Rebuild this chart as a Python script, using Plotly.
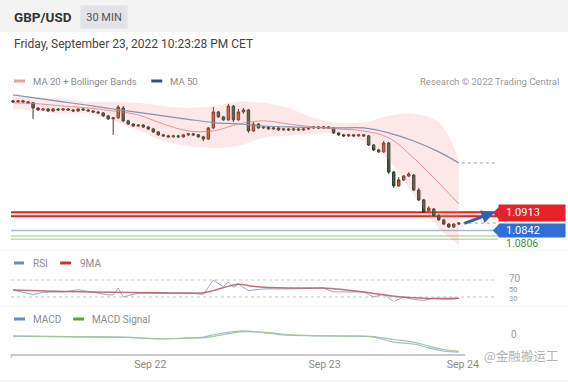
import plotly.graph_objects as go

W, H = 568, 383
FIG_W = 583  # layout width that renders as a full 568 px wide picture in the viewer

# ---------------- data ----------------
candle_idx = list(range(90))
opens = [1.1368, 1.1364, 1.1368, 1.1364, 1.1360, 1.1339, 1.1331, 1.1335, 1.1327, 1.1335,
         1.1331, 1.1335, 1.1331, 1.1327, 1.1335, 1.1331, 1.1327, 1.1323, 1.1319, 1.1307,
         1.1295, 1.1299, 1.1339, 1.1287, 1.1274, 1.1266, 1.1270, 1.1262, 1.1254, 1.1242,
         1.1230, 1.1226, 1.1222, 1.1226, 1.1222, 1.1230, 1.1234, 1.1230, 1.1222, 1.1213,
         1.1258, 1.1323, 1.1303, 1.1291, 1.1347, 1.1291, 1.1323, 1.1331, 1.1246, 1.1274,
         1.1258, 1.1262, 1.1254, 1.1258, 1.1250, 1.1254, 1.1250, 1.1254, 1.1250, 1.1254,
         1.1258, 1.1262, 1.1258, 1.1262, 1.1258, 1.1238, 1.1230, 1.1226, 1.1230, 1.1226,
         1.1230, 1.1226, 1.1189, 1.1169, 1.1161, 1.1197, 1.1079, 1.1023, 1.1047, 1.1063,
         1.1067, 1.1006, 1.0966, 1.0921, 1.0929, 1.0901, 1.0885, 1.0868, 1.0856, 1.0868]
highs = [1.1372, 1.1372, 1.1372, 1.1368, 1.1364, 1.1343, 1.1339, 1.1339, 1.1339, 1.1339,
         1.1339, 1.1339, 1.1335, 1.1339, 1.1339, 1.1335, 1.1331, 1.1327, 1.1323, 1.1311,
         1.1303, 1.1351, 1.1347, 1.1291, 1.1278, 1.1274, 1.1274, 1.1266, 1.1258, 1.1246,
         1.1234, 1.1230, 1.1230, 1.1230, 1.1234, 1.1238, 1.1238, 1.1234, 1.1226, 1.1262,
         1.1343, 1.1327, 1.1307, 1.1356, 1.1351, 1.1335, 1.1339, 1.1335, 1.1282, 1.1278,
         1.1266, 1.1266, 1.1262, 1.1262, 1.1258, 1.1258, 1.1258, 1.1258, 1.1258, 1.1262,
         1.1266, 1.1266, 1.1266, 1.1266, 1.1262, 1.1242, 1.1234, 1.1234, 1.1234, 1.1234,
         1.1234, 1.1230, 1.1193, 1.1173, 1.1205, 1.1201, 1.1084, 1.1059, 1.1067, 1.1079,
         1.1071, 1.1015, 1.0970, 1.0941, 1.0933, 1.0909, 1.0889, 1.0872, 1.0872, 1.0876]
lows = [1.1360, 1.1360, 1.1360, 1.1356, 1.1295, 1.1327, 1.1327, 1.1323, 1.1323, 1.1327,
        1.1327, 1.1327, 1.1323, 1.1323, 1.1327, 1.1323, 1.1319, 1.1315, 1.1303, 1.1291,
        1.1230, 1.1295, 1.1282, 1.1270, 1.1262, 1.1262, 1.1258, 1.1250, 1.1238, 1.1226,
        1.1222, 1.1218, 1.1218, 1.1218, 1.1218, 1.1226, 1.1226, 1.1218, 1.1205, 1.1209,
        1.1254, 1.1299, 1.1287, 1.1287, 1.1282, 1.1287, 1.1315, 1.1238, 1.1242, 1.1254,
        1.1254, 1.1250, 1.1250, 1.1246, 1.1246, 1.1246, 1.1246, 1.1246, 1.1246, 1.1250,
        1.1254, 1.1254, 1.1254, 1.1254, 1.1234, 1.1226, 1.1222, 1.1222, 1.1222, 1.1222,
        1.1222, 1.1185, 1.1165, 1.1157, 1.1157, 1.1071, 1.1015, 1.1019, 1.1043, 1.1059,
        1.1002, 1.0962, 1.0913, 1.0917, 1.0897, 1.0881, 1.0864, 1.0852, 1.0852, 1.0864]
closes = [1.1364, 1.1368, 1.1364, 1.1360, 1.1339, 1.1331, 1.1335, 1.1327, 1.1335, 1.1331,
          1.1335, 1.1331, 1.1327, 1.1335, 1.1331, 1.1327, 1.1323, 1.1319, 1.1307, 1.1295,
          1.1299, 1.1343, 1.1287, 1.1274, 1.1266, 1.1270, 1.1262, 1.1254, 1.1242, 1.1230,
          1.1226, 1.1222, 1.1226, 1.1222, 1.1230, 1.1234, 1.1230, 1.1222, 1.1213, 1.1258,
          1.1323, 1.1303, 1.1291, 1.1347, 1.1291, 1.1323, 1.1331, 1.1246, 1.1274, 1.1258,
          1.1262, 1.1254, 1.1258, 1.1250, 1.1254, 1.1250, 1.1254, 1.1250, 1.1254, 1.1258,
          1.1262, 1.1258, 1.1262, 1.1258, 1.1238, 1.1230, 1.1226, 1.1230, 1.1226, 1.1230,
          1.1226, 1.1189, 1.1169, 1.1161, 1.1197, 1.1079, 1.1023, 1.1047, 1.1063, 1.1071,
          1.1006, 1.0966, 1.0917, 1.0933, 1.0901, 1.0885, 1.0868, 1.0856, 1.0868, 1.0872]

ind_idx = [0, 5, 10, 15, 20, 25, 30, 35, 40, 45, 50, 55, 60, 65, 70, 75, 80, 85, 89]
ma50 = [1.1392, 1.1378, 1.1364, 1.1350, 1.1335, 1.1321, 1.1307, 1.1293, 1.1280, 1.1274,
        1.1266, 1.1262, 1.1260, 1.1258, 1.1258, 1.1238, 1.1205, 1.1161, 1.1116]
ma20 = [1.1360, 1.1356, 1.1347, 1.1339, 1.1327, 1.1311, 1.1274, 1.1246, 1.1246, 1.1274,
        1.1287, 1.1274, 1.1262, 1.1254, 1.1246, 1.1218, 1.1136, 1.1035, 1.0950]
bb_upper = [1.1384, 1.1384, 1.1376, 1.1364, 1.1364, 1.1360, 1.1347, 1.1339, 1.1347, 1.1364,
            1.1360, 1.1339, 1.1299, 1.1278, 1.1282, 1.1307, 1.1315, 1.1282, 1.1128]
bb_lower = [1.1335, 1.1327, 1.1315, 1.1315, 1.1287, 1.1250, 1.1205, 1.1185, 1.1177, 1.1185,
            1.1218, 1.1226, 1.1234, 1.1234, 1.1201, 1.1128, 1.0986, 1.0852, 1.0783]

rsi_idx = [0, 4, 6, 10, 13, 16, 19, 20, 21, 22, 25, 30, 35, 38, 40, 42, 43, 44, 45, 47,
           50, 55, 62, 64, 70, 72, 74, 76, 78, 80, 82, 84, 86, 88, 89]
rsi = [46.5, 36, 41, 42, 47, 41, 35, 35, 51, 30, 39, 38, 40, 36, 70, 54, 65, 53, 60, 45,
       49, 49, 51, 42, 42, 30, 37, 19, 30, 24, 22, 27, 25, 25, 27]
rsi_ma_idx = [0, 10, 20, 30, 38, 40, 45, 48, 55, 62, 70, 76, 82, 89]
rsi_ma = [46.5, 43, 41, 40, 40, 45, 60, 55, 51, 51, 42, 32, 27, 27]

macd_idx = [0, 17, 23, 29, 35, 38, 40, 44, 46, 51, 54, 60, 67, 72, 76, 80, 83, 86, 89]
macd = [-0.0007, -0.0011, -0.0012, -0.0018, -0.0014, -0.0011, -0.0002, 0.0010, 0.0013, 0.0004,
        -0.0003, -0.0006, -0.0007, -0.0011, -0.0030, -0.0037, -0.0052, -0.0064, -0.0068]
macd_signal = [-0.0007, -0.0010, -0.0012, -0.0017, -0.0015, -0.0013, -0.0008, 0.0005, 0.0010, 0.0006,
               0.0000, -0.0005, -0.0007, -0.0009, -0.0020, -0.0030, -0.0045, -0.0058, -0.0064]

date_tick_pos = [27.4, 62.2, 89.8]
date_tick_text = ["Sep 22", "Sep 23", "Sep 24"]

red_zone = [1.0900, 1.0916]
level_red = 1.0913
level_blue = 1.0842
green_lines = [1.0820, 1.0806]
level_green = 1.0806
last_close_level = 1.0872
ma50_last = 1.1116
arrow_target = 1.0917
rsi_levels = [70, 30]
rsi_labels = [70, 50, 30]


# ---------------- helpers ----------------
def X(px):
    return px / W


def Y(py):
    return 1 - py / H


FONT = "Roboto"
shapes = []
annotations = []


def rect_px(x0, y0, x1, y1, color, line=None):
    shapes.append(dict(type="rect", xref="paper", yref="paper", x0=X(x0), x1=X(x1), y0=Y(y0), y1=Y(y1),
                       fillcolor=color, line=dict(width=0) if line is None else line, layer="below"))


def hline_px(x0, x1, py, color, width=1):
    shapes.append(dict(type="line", xref="paper", yref="paper", x0=X(x0), x1=X(x1), y0=Y(py), y1=Y(py),
                       line=dict(color=color, width=width), layer="below"))


def txt(px, py, s, size, color, anchor="left", family=FONT):
    annotations.append(dict(x=X(px), y=Y(py), xref="paper", yref="paper", text=s, showarrow=False,
                            xanchor=anchor, yanchor="middle", font=dict(size=size, color=color, family=family)))


fig = go.Figure()

# Bollinger band + moving averages
fig.add_trace(go.Scatter(x=ind_idx, y=bb_lower, mode="lines", line=dict(width=0, shape="spline"),
                         hoverinfo="skip", showlegend=False))
fig.add_trace(go.Scatter(x=ind_idx, y=bb_upper, mode="lines", line=dict(width=0, shape="spline"),
                         fill="tonexty", fillcolor="rgba(240,140,140,0.2)", hoverinfo="skip", showlegend=False))
fig.add_trace(go.Scatter(x=ind_idx, y=ma20, mode="lines",
                         line=dict(color="rgba(214,120,125,0.75)", width=1, shape="spline"), showlegend=False))
fig.add_trace(go.Scatter(x=ind_idx, y=ma50, mode="lines",
                         line=dict(color="#8592b0", width=1.2, shape="spline"), showlegend=False))

fig.add_trace(go.Candlestick(x=candle_idx, open=opens, high=highs, low=lows, close=closes,
                             increasing=dict(line=dict(color="#6a2e1d", width=1), fillcolor="#c4623a"),
                             decreasing=dict(line=dict(color="#2c3a2a", width=1), fillcolor="#45593f"),
                             whiskerwidth=0, showlegend=False))

# RSI panel
fig.add_trace(go.Scatter(x=rsi_idx, y=rsi, mode="lines", yaxis="y2",
                         line=dict(color="rgba(160,150,185,0.9)", width=1), showlegend=False))
fig.add_trace(go.Scatter(x=rsi_ma_idx, y=rsi_ma, mode="lines", yaxis="y2",
                         line=dict(color="rgba(176,90,100,0.85)", width=1.5, shape="spline"), showlegend=False))

# MACD panel
fig.add_trace(go.Scatter(x=macd_idx, y=macd, mode="lines", yaxis="y3",
                         line=dict(color="#a3b8d8", width=1.2, shape="spline"), showlegend=False))
fig.add_trace(go.Scatter(x=macd_idx, y=macd_signal, mode="lines", yaxis="y3",
                         line=dict(color="#9fc79a", width=1.2, shape="spline"), showlegend=False))

# background / frame
rect_px(0, 0, W, 32, "#f3f3f3")
hline_px(0, W, 250, "#f0f0f0")
hline_px(0, W, 306, "#f0f0f0")
hline_px(0, W, 381, "#ececec")

# level lines
x_lv0, x_lv1 = X(11), X(497)
shapes.append(dict(type="rect", xref="paper", yref="y", x0=x_lv0, x1=x_lv1, y0=red_zone[0], y1=red_zone[1],
                   fillcolor="rgba(250,190,190,0.6)", line=dict(width=0), layer="below"))
for v in red_zone:
    shapes.append(dict(type="line", xref="paper", yref="y", x0=x_lv0, x1=x_lv1, y0=v, y1=v,
                       line=dict(color="#d8281f", width=2), layer="below"))
shapes.append(dict(type="line", xref="paper", yref="y", x0=x_lv0, x1=x_lv1, y0=level_blue, y1=level_blue,
                   line=dict(color="#a9bccf", width=1.5), layer="below"))
for v in green_lines:
    shapes.append(dict(type="line", xref="paper", yref="y", x0=x_lv0, x1=x_lv1, y0=v, y1=v,
                       line=dict(color="#bcdbb0", width=1.5), layer="below"))

# dotted extensions
for v, x0 in [(ma50_last, 461), (last_close_level, 462)]:
    shapes.append(dict(type="line", xref="paper", yref="y", x0=X(x0), x1=X(496), y0=v, y1=v,
                       line=dict(color="#a0a4aa", width=1, dash="dot")))
for v in rsi_levels:
    shapes.append(dict(type="line", xref="paper", yref="y2", x0=X(11), x1=X(496), y0=v, y1=v,
                       line=dict(color="#c4c4c4", width=1, dash="dot"), layer="below"))

# x axis start tick
shapes.append(dict(type="line", xref="paper", yref="paper", x0=X(11.5), x1=X(11.5), y0=Y(354), y1=Y(358),
                   line=dict(color="#c8c8c8", width=1.5)))

# price label tips
for v, col in [(level_red, "#e3222a"), (level_blue, "#2f6fd6")]:
    shapes.append(dict(type="path", xref="paper", yref="y",
                       path=f"M {X(492)},{v} L {X(498)},{v + 0.0025} L {X(498)},{v - 0.0025} Z",
                       fillcolor=col, line=dict(width=0)))

# texts
txt(12, 17.5, "<b>GBP/USD</b>", 13.5, "#333333")
annotations.append(dict(x=X(104), y=Y(17), xref="paper", yref="paper", text="30 MIN", showarrow=False,
                        xanchor="center", yanchor="middle", bgcolor="#e2e3e8", width=44, height=20,
                        font=dict(size=11, color="#555555", family=FONT)))
txt(12, 44, "Friday, September 23, 2022 10:23:28 PM CET", 12, "#444444")

rect_px(14, 79.5, 25, 82.5, "#e8a0a4")
txt(31, 81, "MA 20 + Bollinger Bands", 9.5, "#8c8c8c")
rect_px(151, 79.5, 162, 82.5, "#34507f")
txt(168, 81, "MA 50", 9.5, "#8c8c8c")
txt(560, 81, "Research © 2022 Trading Central", 9.5, "#9a9a9a", anchor="right")

rect_px(14, 261.5, 24, 264.5, "#6b8cc9")
txt(31, 263, "RSI", 10, "#8c8c8c")
rect_px(60, 261.5, 71, 264.5, "#c0392b")
txt(78, 263, "9MA", 10, "#8c8c8c")

rect_px(14, 317.5, 25, 320.5, "#6b8cc9")
txt(31, 319, "MACD", 10, "#8c8c8c")
rect_px(73, 317.5, 84, 320.5, "#5ba33b")
txt(90, 319, "MACD Signal", 10, "#8c8c8c")

# right side price labels (green first so the blue box covers its top)
annotations.append(dict(x=X(521), y=level_green, xref="paper", yref="y", text="1.0806", showarrow=False,
                        xanchor="center", yanchor="top", yshift=4,
                        font=dict(size=10.5, color="#3e8f3e", family=FONT)))
for v, col, h in [(level_red, "#e3222a", 16), (level_blue, "#2f6fd6", 13)]:
    annotations.append(dict(x=X(497), y=v, xref="paper", yref="y", text=" ", showarrow=False,
                            xanchor="left", yanchor="middle", bgcolor=col, width=66, height=h, borderpad=0,
                            font=dict(size=10, color=col)))
for v in [level_red, level_blue]:
    annotations.append(dict(x=X(522), y=v, xref="paper", yref="y", text=f"{v:.4f}", showarrow=False,
                            xanchor="center", yanchor="middle", font=dict(size=11, color="white", family=FONT)))

# projection arrow
annotations.append(dict(x=X(494), y=arrow_target, xref="paper", yref="y", text="", showarrow=True,
                        ax=-32, ay=12, arrowhead=2, arrowsize=0.9, arrowwidth=3, arrowcolor="#2f62ae"))

for v, fs, ys in zip(rsi_labels, [10, 7.5, 7.5], [2, -1, -1]):
    annotations.append(dict(x=X(506), y=v, xref="paper", yref="y2", text=str(v), showarrow=False,
                            xanchor="left", yanchor="middle", yshift=ys,
                            font=dict(size=fs, color="#9a9a9a", family=FONT)))
annotations.append(dict(x=X(508), y=0, xref="paper", yref="y3", text="0", showarrow=False,
                        xanchor="left", yanchor="middle", font=dict(size=10, color="#9a9a9a", family=FONT)))

txt(481, 355, "@金融搬运工", 12.5, "#b4b4b4", family="Noto Sans CJK SC")

fig.update_layout(
    width=FIG_W, height=H, autosize=False,
    margin=dict(l=0, r=0, t=0, b=0),
    paper_bgcolor="white", plot_bgcolor="rgba(0,0,0,0)",
    showlegend=False, hovermode=False,
    shapes=shapes, annotations=annotations,
    xaxis=dict(domain=[X(11), X(464)], range=[-0.4, 90.2], anchor="y3",
               showgrid=False, zeroline=False, showline=True, linecolor="#c8c8c8", linewidth=1.5,
               tickvals=date_tick_pos, ticktext=date_tick_text, ticks="",
               tickfont=dict(size=10.5, color="#8a8a8a", family=FONT),
               rangeslider=dict(visible=False), fixedrange=True),
    yaxis=dict(domain=[Y(246), Y(90)], range=[1.0779, 1.1412], visible=False, fixedrange=True),
    yaxis2=dict(domain=[Y(301.25), Y(271.5)], range=[20, 90], visible=False, fixedrange=True),
    yaxis3=dict(domain=[Y(354), Y(325)], range=[-0.0075, 0.0035], visible=False, fixedrange=True),
)

fig.write_html(
    "out.html",
    config={"displayModeBar": False, "responsive": False},
    post_script="document.body.style.margin='0px';document.body.style.overflow='hidden';"
                "document.documentElement.style.overflow='hidden';",
)
